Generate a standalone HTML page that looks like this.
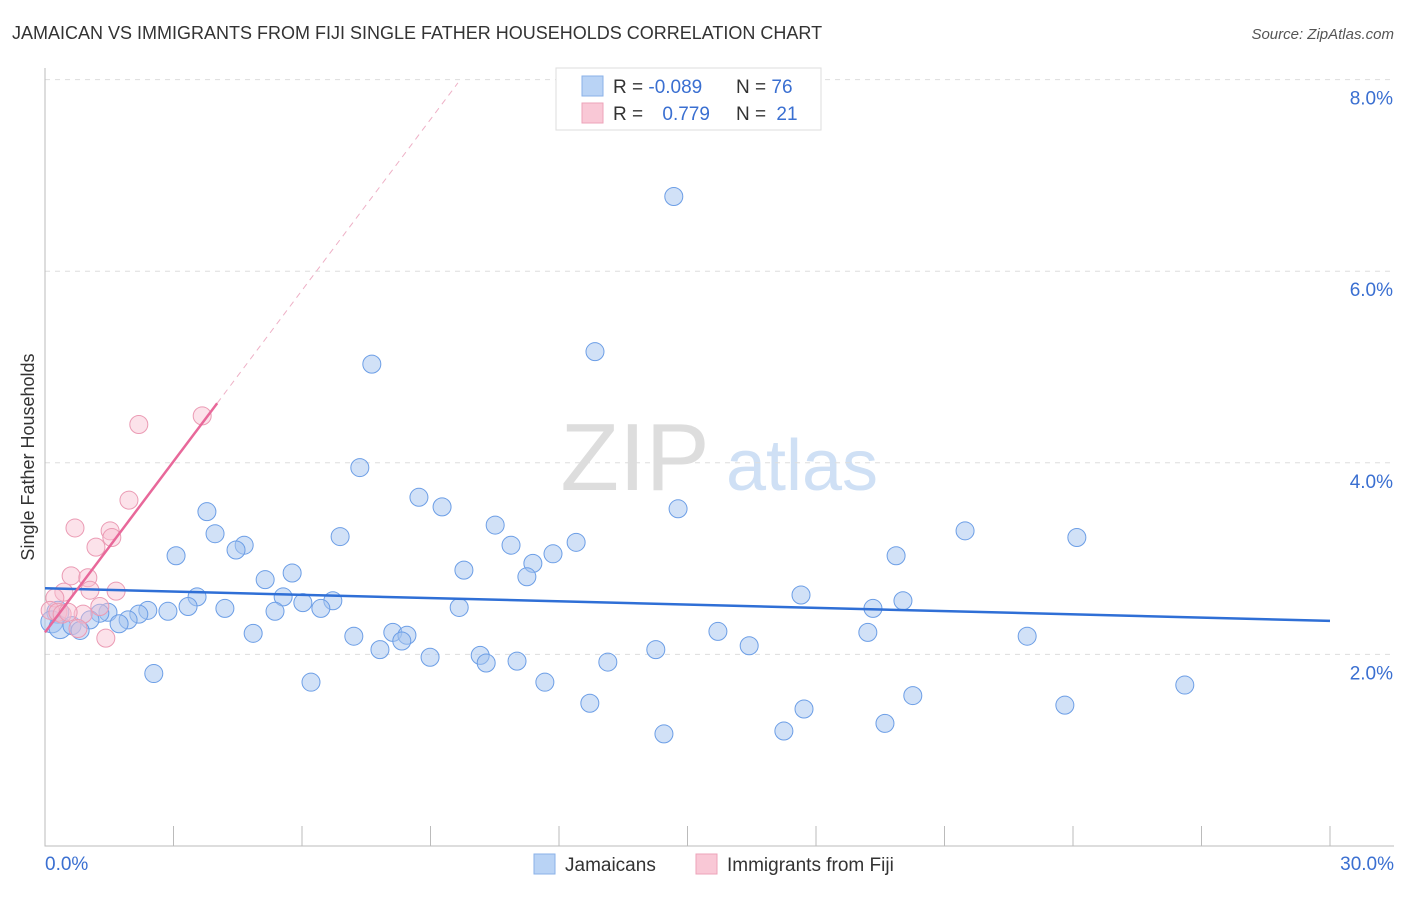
<!DOCTYPE html>
<html><head><meta charset="utf-8"><style>
body{margin:0;background:#fff;font-family:"Liberation Sans",sans-serif;}
svg text{font-family:"Liberation Sans",sans-serif;}
</style></head><body>
<svg id="chart" width="1406" height="892" xmlns="http://www.w3.org/2000/svg">
<text x="12" y="39" font-size="18" fill="#333">JAMAICAN VS IMMIGRANTS FROM FIJI SINGLE FATHER HOUSEHOLDS CORRELATION CHART</text>
<text x="1394" y="39" font-size="15" fill="#555" text-anchor="end" font-style="italic">Source: ZipAtlas.com</text>
<text transform="translate(34,457) rotate(-90)" font-size="18" fill="#333" text-anchor="middle">Single Father Households</text>
<g><text x="635" y="490" font-size="96" fill="#ddd" text-anchor="middle" font-family="Liberation Serif">ZIP</text><text x="802" y="490" font-size="72" fill="#cfe0f5" text-anchor="middle">atlas</text></g>
<g id="grid"></g><g id="axes"></g><g id="marks"></g>
<g>
<rect x="556" y="68" width="265" height="62" fill="#fff" stroke="#ddd"/>
<rect x="582" y="76" width="21" height="20" fill="#b9d3f5" stroke="#8ab1e8"/>
<rect x="582" y="103" width="21" height="20" fill="#f9c8d6" stroke="#eda3b9"/>
<text x="613" y="93" font-size="19" fill="#333">R = <tspan fill="#3a6fd1">-0.089</tspan></text>
<text x="736" y="93" font-size="19" fill="#333">N = <tspan fill="#3a6fd1">76</tspan></text>
<text x="613" y="120" font-size="19" fill="#333">R = <tspan fill="#3a6fd1" dx="14">0.779</tspan></text>
<text x="736" y="120" font-size="19" fill="#333">N = <tspan fill="#3a6fd1" dx="5">21</tspan></text>
</g>
<g>
<rect x="534" y="854" width="21" height="20" fill="#b9d3f5" stroke="#8ab1e8"/>
<text x="565" y="871" font-size="19" fill="#333">Jamaicans</text>
<rect x="696" y="854" width="21" height="20" fill="#f9c8d6" stroke="#eda3b9"/>
<text x="727" y="871" font-size="19" fill="#333">Immigrants from Fiji</text>
</g>
</svg>
<script>
const yTicks=[2,4,6,8];
const yTickLabels=["2.0%","4.0%","6.0%","8.0%"];
const xEndLabels=["0.0%","30.0%"];
const jamX=[14.68,12.84,7.63,7.35,8.73,9.27,3.78,14.78,10.51,21.48,3.97,6.89,24.09,12.40,4.65,10.88,4.46,3.06,11.86,19.87,11.39,9.78,5.77,11.25,5.14,17.65,3.55,5.56,20.03,6.72,6.02,3.34,9.67,19.33,4.20,6.44,5.37,2.40,2.87,2.19,1.47,1.28,1.94,1.73,1.05,0.30,0.16,0.35,0.63,0.82,19.21,15.71,8.12,4.86,8.45,7.21,22.93,8.33,16.44,7.82,14.26,8.99,10.16,10.30,11.02,13.14,2.54,6.21,11.67,26.61,20.26,12.72,23.81,17.72,19.61,14.45,17.25];
const jamY=[6.78,5.16,5.03,3.95,3.64,3.54,3.49,3.52,3.35,3.29,3.26,3.23,3.22,3.17,3.14,3.14,3.09,3.03,3.05,3.03,2.95,2.88,2.85,2.81,2.78,2.62,2.60,2.60,2.56,2.56,2.54,2.50,2.49,2.48,2.48,2.48,2.45,2.46,2.45,2.42,2.44,2.43,2.36,2.32,2.36,2.44,2.34,2.28,2.30,2.25,2.23,2.24,2.23,2.22,2.20,2.19,2.19,2.14,2.09,2.05,2.05,1.97,1.99,1.91,1.93,1.92,1.80,1.71,1.71,1.68,1.57,1.49,1.47,1.43,1.28,1.17,1.20];
const fijiX=[3.67,2.19,1.96,0.70,1.52,1.56,1.19,0.61,1.00,1.05,1.66,0.44,0.23,0.12,0.30,0.40,1.28,0.89,0.54,0.77,1.42];
const fijiY=[4.49,4.40,3.61,3.32,3.29,3.22,3.12,2.82,2.80,2.67,2.66,2.65,2.59,2.46,2.44,2.42,2.50,2.42,2.44,2.27,2.17];
const jamTrend=[2.69,2.35];
const fijiTrend=[2.23,0.595];
const NS="http://www.w3.org/2000/svg";
const X=v=>45+v/30*1285, Y=v=>846-v*95.8;
function mk(t,a,p){const e=document.createElementNS(NS,t);for(const k in a)e.setAttribute(k,a[k]);p.appendChild(e);return e;}
const grid=document.getElementById('grid'),axes=document.getElementById('axes'),marks=document.getElementById('marks');
yTicks.forEach((t,i)=>{
 const l=mk('line',{x1:45,x2:1394,y1:Y(t),y2:Y(t),stroke:'#ddd','stroke-dasharray':'5,5'},grid);
 
 
 const tx=mk('text',{x:1393,y:Y(t)+25,'font-size':19,fill:'#3a6fd1','text-anchor':'end'},axes);
 tx.textContent=yTickLabels[i];
 
 
});
const ax=mk('path',{d:'M45,68V846H1394',stroke:'#bbb',fill:'none'},axes);


for(let i=0;i<=10;i++){
 const t=mk('line',{x1:X(i*3),x2:X(i*3),y1:826,y2:846,stroke:'#bbb'},axes);
 
 
}
[[0,'start',45],[30,'end',1394]].forEach((d,i)=>{
 const t=mk('text',{x:d[2],y:870,'font-size':19,fill:'#3a6fd1','text-anchor':d[1]},axes);
 t.textContent=xEndLabels[i];
 
 
});
jamX.forEach((x,i)=>{
 const c=mk('circle',{cx:X(x),cy:Y(jamY[i]),r:x<0.5?11:9,fill:'rgba(164,196,240,0.5)',stroke:'#6c9ee6','stroke-width':1},marks);
 
 
});
fijiX.forEach((x,i)=>{
 const c=mk('circle',{cx:X(x),cy:Y(fijiY[i]),r:9,fill:'rgba(248,190,208,0.45)',stroke:'#eb9bb4','stroke-width':1},marks);
 
 
});
const jl=mk('line',{x1:X(0),y1:Y(jamTrend[0]),x2:X(30),y2:Y(jamTrend[1]),stroke:'#2f6fd6','stroke-width':2.5},marks);


const fy=x=>fijiTrend[0]+fijiTrend[1]*x;
const fl=mk('line',{x1:X(0),y1:Y(fy(0)),x2:X(4.02),y2:Y(fy(4.02)),stroke:'#e8689a','stroke-width':2.5},marks);


const fd=mk('line',{x1:X(4.02),y1:Y(fy(4.02)),x2:X(9.64),y2:Y(fy(9.64)),stroke:'#eeb0c6','stroke-width':1,'stroke-dasharray':'6,5'},marks);


</script>
</body></html>
